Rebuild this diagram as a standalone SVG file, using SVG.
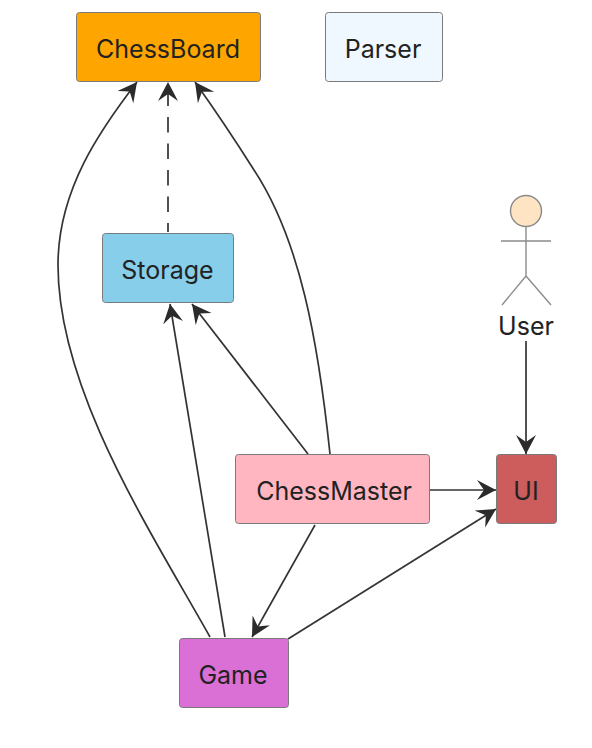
<svg xmlns="http://www.w3.org/2000/svg" width="592" height="748" viewBox="0 0 592 748">
<style>
.n{stroke:#7a7a7a;stroke-width:1}
.t{font-family:Inter,"Liberation Sans",Arial,sans-serif;font-size:25px;font-weight:400;fill:#222;text-anchor:middle}
.c{fill:none;stroke:#333;stroke-width:1.7}
.a{stroke:#8c8c8c;stroke-width:1.4;fill:none}
</style>
<defs>
<marker id="h" markerUnits="userSpaceOnUse" markerWidth="22" markerHeight="22" refX="19" refY="10" orient="auto">
<path d="M0,0 L19,10 L0,20 L7,10 Z" fill="#2b2b2b"/>
</marker>
</defs>
<rect width="592" height="748" fill="#fff"/>
<g id="connectors">
<path class="c" d="M168,232 L168,82" stroke-dasharray="15.500,11" stroke-dashoffset="6.500" marker-end="url(#h)"/>
<path class="c" d="M210,637 C150,530 58,390 58,265 C58,190 100,130 137,82" marker-end="url(#h)"/>
<path class="c" d="M330,454 C318,340 300,240 254,170 C235,140 215,110 195,82" marker-end="url(#h)"/>
<path class="c" d="M225,637 L170,304" marker-end="url(#h)"/>
<path class="c" d="M308,454 L192,304" marker-end="url(#h)"/>
<path class="c" d="M430,490 L496,490" marker-end="url(#h)"/>
<path class="c" d="M315,525 L252,637" marker-end="url(#h)"/>
<path class="c" d="M288,639 L496,509" marker-end="url(#h)"/>
<path class="c" d="M526,341 L526,454" marker-end="url(#h)"/>
</g>
<g id="ChessBoard"><rect class="n" x="76.500" y="12.500" width="184" height="69" rx="3" fill="#FFA500"/><text class="t" x="168" y="58">ChessBoard</text></g>
<g id="Parser"><rect class="n" x="325.500" y="12.500" width="117" height="69" rx="3" fill="#F0F8FF"/><text class="t" x="383" y="58">Parser</text></g>
<g id="Storage"><rect class="n" x="102.500" y="233.500" width="131" height="69" rx="3" fill="#87CEEB"/><text class="t" x="167.500" y="279">Storage</text></g>
<g id="ChessMaster"><rect class="n" x="235.500" y="454.500" width="194" height="69" rx="3" fill="#FFB6C1"/><text class="t" x="334" y="500">ChessMaster</text></g>
<g id="UI"><rect class="n" x="496.500" y="454.500" width="60" height="69" rx="3" fill="#CD5C5C"/><text class="t" x="526" y="500">UI</text></g>
<g id="Game"><rect class="n" x="179.500" y="638.500" width="109" height="69" rx="3" fill="#DA70D6"/><text class="t" x="233" y="684">Game</text></g>
<g id="User">
<circle cx="526" cy="211" r="15.500" fill="#FFE4C4" stroke="#8a8a8a" stroke-width="1.4"/>
<path class="a" d="M526,227 L526,276 M501,241 L551,241 M526,276 L502,305 M526,276 L551,305"/>
<text class="t" x="526" y="335">User</text>
</g>
</svg>
